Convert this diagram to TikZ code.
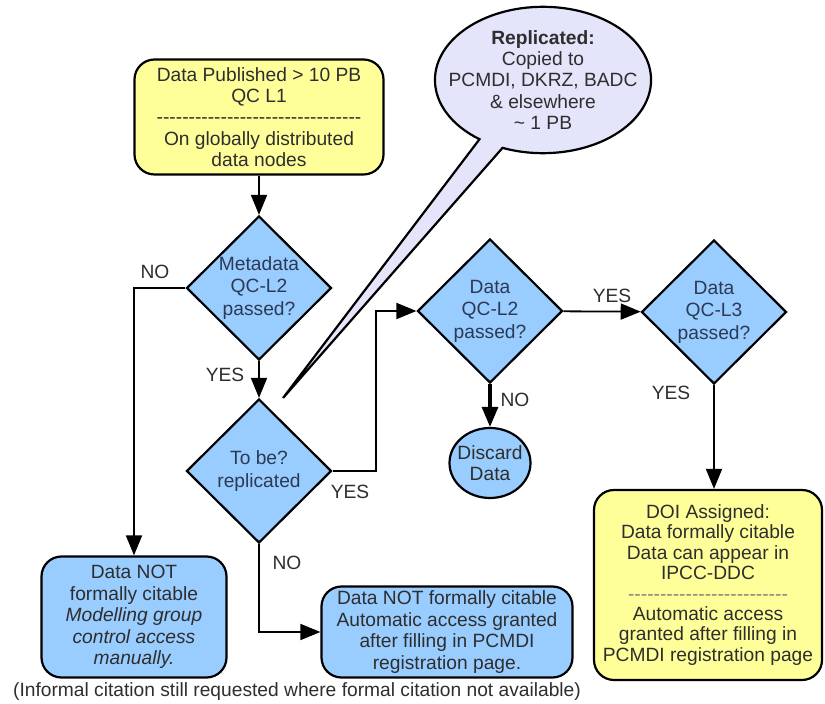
\documentclass[tikz,border=0pt]{standalone}
\usepackage{fontspec}
\setmainfont{Liberation Sans}
\usetikzlibrary{shapes.geometric,shapes.callouts,arrows.meta}
\definecolor{qcyellow}{HTML}{FFFF99}
\definecolor{qcblue}{HTML}{99CCFF}
\definecolor{qclilac}{HTML}{E4E4FA}
\definecolor{qctext}{HTML}{2E2E2E}
\definecolor{qcnavy}{HTML}{2B3A55}
\newcommand\dashrule[1]{\hbox to #1{\cleaders\hbox{-}\hfill}}
\begin{document}
\begin{tikzpicture}[x=.5pt,y=-.5pt,line width=.9pt,
  font=\fontsize{9.6}{10.7}\selectfont,text=qctext,
  >={Triangle[length=10pt,width=8pt]},
  box/.style={draw,rounded corners=10pt,line width=1.1pt,align=center,inner sep=0pt},
  decision/.style={diamond,draw,fill=qcblue,text=qcnavy,line width=1.1pt,aspect=1,inner sep=0pt,
    minimum width=72.5pt,minimum height=72pt,align=center,font=\fontsize{9.6}{11.2}\selectfont}]
\useasboundingbox (0,0) rectangle (825,704);
\node[box,fill=qcyellow,minimum width=124.5pt,minimum height=57.5pt] (pub) at (259,117)
  {Data Published > 10 PB\\QC L1\\\dashrule{104pt}\\On globally distributed\\data nodes};
\node[decision] (meta) at (259,288) {Metadata\\QC-L2\\passed?};
\node[decision] (repq) at (259,471) {To be?\\replicated};
\node[decision] (dqc2) at (490,311) {Data\\QC-L2\\passed?};
\node[decision] (dqc3) at (714,312) {Data\\QC-L3\\passed?};
\node[ellipse,draw,fill=qcblue,line width=1.1pt,inner xsep=-3pt,inner ysep=0pt,
  minimum width=40.5pt,minimum height=35pt,align=center] (discard) at (490,463) {Discard\\Data};
\node[box,fill=qcblue,minimum width=92.5pt,minimum height=60.5pt] (nocite) at (134,617)
  {Data NOT\\formally citable\\\textit{Modelling group}\\\textit{control access}\\\textit{manually.}};
\node[box,fill=qcblue,minimum width=125.5pt,minimum height=45.5pt] (auto) at (447,632)
  {Data NOT formally citable\\Automatic access granted\\after filling in PCMDI\\registration page.};
\node[box,fill=qcyellow,minimum width=114pt,minimum height=95pt,font=\fontsize{9.6}{10.2}\selectfont] (doi) at (708,585)
  {DOI Assigned:\\Data formally citable\\Data can appear in\\IPCC-DDC\\\textcolor{gray}{\dashrule{81pt}}\\Automatic access\\granted after filling in\\PCMDI registration page};
\coordinate (tip) at (283,398);
\node[ellipse callout,draw,fill=qclilac,line width=1.1pt,callout absolute pointer={(tip)},
  callout pointer arc=14,inner xsep=-9pt,inner ysep=1pt,align=center] (repl) at (543,80)
  {\textbf{Replicated:}\\Copied to\\PCMDI, DKRZ, BADC\\\&\ elsewhere\\\textasciitilde\ 1 PB};
\draw[->] (pub) -- (meta);
\draw[->] (meta) -- (repq);
\draw[->] (meta.west) -| (nocite.north);
\draw[->] (repq.east) -- ++(43,0) |- (dqc2.west);
\draw[->] (dqc2) -- (dqc3);
\draw[->,line width=1.6pt] (dqc2) -- (discard);
\draw[->] (dqc3.south) -- (dqc3.south |- doi.north);
\draw[->] (repq.south) |- (auto.west);
\node (noA) at (155,272) {NO};
\node (yesA) at (225,375) {YES};
\node (yesB) at (350,492) {YES};
\node (yesC) at (612,296) {YES};
\node (noB) at (515,400) {NO};
\node (yesD) at (671,393) {YES};
\node (noC) at (287,563) {NO};
\node (note) at (297,692) {(Informal citation still requested where formal citation not available)};
\end{tikzpicture}
\end{document}
